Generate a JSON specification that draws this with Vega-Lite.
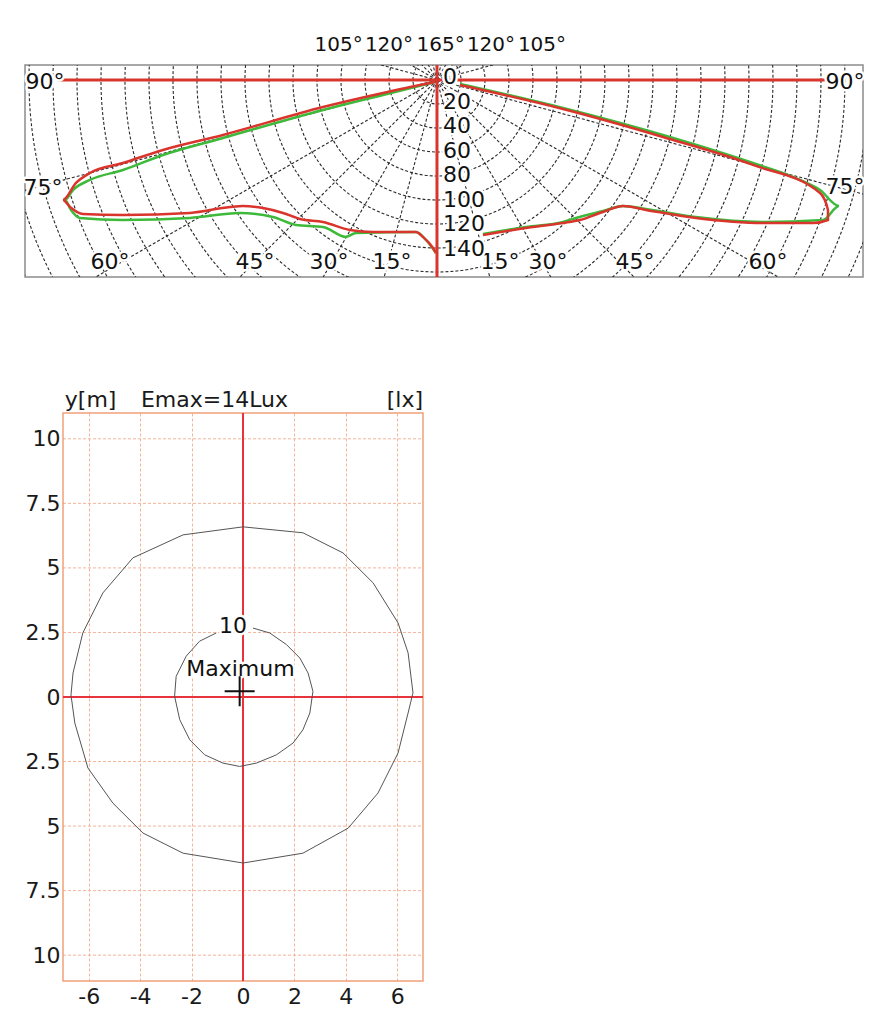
{
  "$schema": "https://vega.github.io/schema/vega-lite/v6.json",
  "padding": {"left": 22, "top": 34, "right": 10, "bottom": 10},
  "background": "white",
  "config": {"font": "DejaVu Sans", "view": {"stroke": null}},
  "spacing": 108,
  "vconcat": [
    {
      "width": 838,
      "height": 212,
      "view": {"stroke": "#8c8c8c", "strokeWidth": 1.5},
      "layer": [
        {
          "data": {"values": [{"r": 20},{"r": 40},{"r": 60},{"r": 80},{"r": 100},{"r": 120},{"r": 140},{"r": 160},{"r": 180},{"r": 200},{"r": 220},{"r": 240},{"r": 260},{"r": 280},{"r": 300},{"r": 320},{"r": 340},{"r": 360},{"r": 380},{"r": 400}]},
          "mark": {"type": "point", "shape": "circle", "filled": false, "stroke": "#2a2a2a", "strokeWidth": 1.1, "strokeDash": [3, 2], "clip": true, "opacity": 1},
          "encoding": {
            "x": {"datum": 0, "type": "quantitative", "scale": {"domain": [-343.3, 355], "nice": false, "zero": false}, "axis": null},
            "y": {"datum": 0, "type": "quantitative", "scale": {"domain": [-164.2, 12.5], "nice": false, "zero": false}, "axis": null},
            "size": {"field": "r", "type": "quantitative", "scale": {"type": "pow", "exponent": 2, "domain": [0, 400], "range": [0, 921600], "zero": true}, "legend": null}
          }
        },
        {
          "data": {"values": [
            {"u1": 0, "v1": 0, "u2": 129.4, "v2": -483.0}, {"u1": 0, "v1": 0, "u2": 250, "v2": -433.0}, {"u1": 0, "v1": 0, "u2": 353.6, "v2": -353.6}, {"u1": 0, "v1": 0, "u2": 433.0, "v2": -250}, {"u1": 0, "v1": 0, "u2": 483.0, "v2": -129.4},
            {"u1": 0, "v1": 0, "u2": 483.0, "v2": 129.4}, {"u1": 0, "v1": 0, "u2": 433.0, "v2": 250}, {"u1": 0, "v1": 0, "u2": 353.6, "v2": 353.6}, {"u1": 0, "v1": 0, "u2": 250, "v2": 433.0}, {"u1": 0, "v1": 0, "u2": 129.4, "v2": 483.0},
            {"u1": 0, "v1": 0, "u2": -129.4, "v2": -483.0}, {"u1": 0, "v1": 0, "u2": -250, "v2": -433.0}, {"u1": 0, "v1": 0, "u2": -353.6, "v2": -353.6}, {"u1": 0, "v1": 0, "u2": -433.0, "v2": -250}, {"u1": 0, "v1": 0, "u2": -483.0, "v2": -129.4},
            {"u1": 0, "v1": 0, "u2": -483.0, "v2": 129.4}, {"u1": 0, "v1": 0, "u2": -433.0, "v2": 250}, {"u1": 0, "v1": 0, "u2": -353.6, "v2": 353.6}, {"u1": 0, "v1": 0, "u2": -250, "v2": 433.0}, {"u1": 0, "v1": 0, "u2": -129.4, "v2": 483.0}
          ]},
          "mark": {"type": "rule", "stroke": "#2a2a2a", "strokeWidth": 1.1, "strokeDash": [3, 2], "clip": true},
          "encoding": {
            "x": {"field": "u1", "type": "quantitative", "scale": {"domain": [-343.3, 355], "nice": false, "zero": false}, "axis": null},
            "y": {"field": "v1", "type": "quantitative", "scale": {"domain": [-164.2, 12.5], "nice": false, "zero": false}, "axis": null},
            "x2": {"field": "u2"},
            "y2": {"field": "v2"}
          }
        },
        {
          "data": {"values": [{"u": 0, "v1": -164.2, "v2": 12.5}]},
          "mark": {"type": "rule", "stroke": "#d9352d", "strokeWidth": 3},
          "encoding": {
            "x": {"field": "u", "type": "quantitative", "scale": {"domain": [-343.3, 355], "nice": false, "zero": false}, "axis": null},
            "y": {"field": "v1", "type": "quantitative", "scale": {"domain": [-164.2, 12.5], "nice": false, "zero": false}, "axis": null},
            "y2": {"field": "v2"}
          }
        },
        {
          "data": {"values": [{"u1": -316, "u2": 326, "v": 0}]},
          "mark": {"type": "rule", "stroke": "#d9352d", "strokeWidth": 3},
          "encoding": {
            "x": {"field": "u1", "type": "quantitative", "scale": {"domain": [-343.3, 355], "nice": false, "zero": false}, "axis": null},
            "x2": {"field": "u2"},
            "y": {"field": "v", "type": "quantitative", "scale": {"domain": [-164.2, 12.5], "nice": false, "zero": false}, "axis": null}
          }
        },
        {
          "data": {"values": [
            {"side": "L", "plane": "C90", "o": 1, "u": -1.7, "v": -1.7},
            {"side": "L", "plane": "C90", "o": 2, "u": -45, "v": -12.5},
            {"side": "L", "plane": "C90", "o": 3, "u": -95, "v": -25},
            {"side": "L", "plane": "C90", "o": 4, "u": -178.3, "v": -48.3},
            {"side": "L", "plane": "C90", "o": 5, "u": -228.3, "v": -62.5},
            {"side": "L", "plane": "C90", "o": 6, "u": -261.7, "v": -75},
            {"side": "L", "plane": "C90", "o": 7, "u": -289.2, "v": -83.3},
            {"side": "L", "plane": "C90", "o": 8, "u": -303.3, "v": -91.7},
            {"side": "L", "plane": "C90", "o": 9, "u": -310, "v": -100},
            {"side": "L", "plane": "C90", "o": 10, "u": -305, "v": -108.3},
            {"side": "L", "plane": "C90", "o": 11, "u": -297.5, "v": -115},
            {"side": "L", "plane": "C90", "o": 12, "u": -261.7, "v": -116.7},
            {"side": "L", "plane": "C90", "o": 13, "u": -205.8, "v": -115},
            {"side": "L", "plane": "C90", "o": 14, "u": -164.2, "v": -110.8},
            {"side": "L", "plane": "C90", "o": 15, "u": -136.7, "v": -114.2},
            {"side": "L", "plane": "C90", "o": 16, "u": -117.5, "v": -120.8},
            {"side": "L", "plane": "C90", "o": 17, "u": -95, "v": -122.5},
            {"side": "L", "plane": "C90", "o": 18, "u": -75.8, "v": -130.8},
            {"side": "L", "plane": "C90", "o": 19, "u": -67.5, "v": -127.5},
            {"side": "L", "plane": "C90", "o": 20, "u": -17.5, "v": -126.7},
            {"side": "L", "plane": "C90", "o": 21, "u": -9.2, "v": -133.3},
            {"side": "L", "plane": "C90", "o": 22, "u": -0.8, "v": -144.2},
            {"side": "R", "plane": "C90", "o": 1, "u": 19.2, "v": -3.3},
            {"side": "R", "plane": "C90", "o": 2, "u": 105, "v": -23.3},
            {"side": "R", "plane": "C90", "o": 3, "u": 188.3, "v": -45.8},
            {"side": "R", "plane": "C90", "o": 4, "u": 263.3, "v": -69.2},
            {"side": "R", "plane": "C90", "o": 5, "u": 302.5, "v": -83.3},
            {"side": "R", "plane": "C90", "o": 6, "u": 319.2, "v": -91.7},
            {"side": "R", "plane": "C90", "o": 7, "u": 335, "v": -105},
            {"side": "R", "plane": "C90", "o": 8, "u": 321.7, "v": -116.7},
            {"side": "R", "plane": "C90", "o": 9, "u": 271.7, "v": -118.3},
            {"side": "R", "plane": "C90", "o": 10, "u": 215.8, "v": -114.2},
            {"side": "R", "plane": "C90", "o": 11, "u": 174.2, "v": -107.5},
            {"side": "R", "plane": "C90", "o": 12, "u": 155, "v": -105},
            {"side": "R", "plane": "C90", "o": 13, "u": 138.3, "v": -109.2},
            {"side": "R", "plane": "C90", "o": 14, "u": 115.8, "v": -115},
            {"side": "R", "plane": "C90", "o": 15, "u": 105, "v": -118.3},
            {"side": "R", "plane": "C90", "o": 16, "u": 74.2, "v": -122.5},
            {"side": "R", "plane": "C90", "o": 17, "u": 38.3, "v": -128.3},
            {"side": "L", "plane": "C0", "o": 1, "u": -1.7, "v": -1.7},
            {"side": "L", "plane": "C0", "o": 2, "u": -45, "v": -10.8},
            {"side": "L", "plane": "C0", "o": 3, "u": -95, "v": -22.5},
            {"side": "L", "plane": "C0", "o": 4, "u": -178.3, "v": -45.8},
            {"side": "L", "plane": "C0", "o": 5, "u": -228.3, "v": -58.3},
            {"side": "L", "plane": "C0", "o": 6, "u": -261.7, "v": -69.2},
            {"side": "L", "plane": "C0", "o": 7, "u": -289.2, "v": -77.5},
            {"side": "L", "plane": "C0", "o": 8, "u": -300.8, "v": -85.8},
            {"side": "L", "plane": "C0", "o": 9, "u": -311.7, "v": -100},
            {"side": "L", "plane": "C0", "o": 10, "u": -305.8, "v": -105.8},
            {"side": "L", "plane": "C0", "o": 11, "u": -295, "v": -111.7},
            {"side": "L", "plane": "C0", "o": 12, "u": -261.7, "v": -112.5},
            {"side": "L", "plane": "C0", "o": 13, "u": -205.8, "v": -110.8},
            {"side": "L", "plane": "C0", "o": 14, "u": -172.5, "v": -105.8},
            {"side": "L", "plane": "C0", "o": 15, "u": -161.7, "v": -105},
            {"side": "L", "plane": "C0", "o": 16, "u": -145, "v": -106.7},
            {"side": "L", "plane": "C0", "o": 17, "u": -128.3, "v": -110.8},
            {"side": "L", "plane": "C0", "o": 18, "u": -114.2, "v": -115.8},
            {"side": "L", "plane": "C0", "o": 19, "u": -95, "v": -118.3},
            {"side": "L", "plane": "C0", "o": 20, "u": -72.5, "v": -125},
            {"side": "L", "plane": "C0", "o": 21, "u": -53.3, "v": -126.7},
            {"side": "L", "plane": "C0", "o": 22, "u": -17.5, "v": -126.7},
            {"side": "L", "plane": "C0", "o": 23, "u": -11.7, "v": -130.8},
            {"side": "L", "plane": "C0", "o": 24, "u": -3.3, "v": -140},
            {"side": "L", "plane": "C0", "o": 25, "u": -0.8, "v": -144.2},
            {"side": "R", "plane": "C0", "o": 1, "u": 19.2, "v": -4.2},
            {"side": "R", "plane": "C0", "o": 2, "u": 105, "v": -24.2},
            {"side": "R", "plane": "C0", "o": 3, "u": 188.3, "v": -47.5},
            {"side": "R", "plane": "C0", "o": 4, "u": 263.3, "v": -70.8},
            {"side": "R", "plane": "C0", "o": 5, "u": 319.2, "v": -94.2},
            {"side": "R", "plane": "C0", "o": 6, "u": 325.8, "v": -108.3},
            {"side": "R", "plane": "C0", "o": 7, "u": 325.8, "v": -116.7},
            {"side": "R", "plane": "C0", "o": 8, "u": 313.3, "v": -119.2},
            {"side": "R", "plane": "C0", "o": 9, "u": 271.7, "v": -119.2},
            {"side": "R", "plane": "C0", "o": 10, "u": 215.8, "v": -115},
            {"side": "R", "plane": "C0", "o": 11, "u": 174.2, "v": -108.3},
            {"side": "R", "plane": "C0", "o": 12, "u": 155, "v": -105},
            {"side": "R", "plane": "C0", "o": 13, "u": 138.3, "v": -110},
            {"side": "R", "plane": "C0", "o": 14, "u": 119.2, "v": -116.7},
            {"side": "R", "plane": "C0", "o": 15, "u": 105, "v": -119.2},
            {"side": "R", "plane": "C0", "o": 16, "u": 74.2, "v": -123.3},
            {"side": "R", "plane": "C0", "o": 17, "u": 38.3, "v": -129.2}
          ]},
          "mark": {"type": "line", "strokeWidth": 2.5, "interpolate": "monotone"},
          "encoding": {
            "x": {"field": "u", "type": "quantitative", "scale": {"domain": [-343.3, 355], "nice": false, "zero": false}, "axis": null},
            "y": {"field": "v", "type": "quantitative", "scale": {"domain": [-164.2, 12.5], "nice": false, "zero": false}, "axis": null},
            "color": {"field": "plane", "type": "nominal", "scale": {"domain": ["C90", "C0"], "range": ["#3dba3a", "#d9352d"]}, "legend": null},
            "detail": {"field": "side"},
            "order": {"field": "o", "type": "quantitative"}
          }
        },
        {
          "data": {"values": [
            {"t": "90°", "u": -326.7, "v": -1.5}, {"t": "75°", "u": -328.3, "v": -90}, {"t": "60°", "u": -272.5, "v": -151.7}, {"t": "45°", "u": -151.7, "v": -151.7}, {"t": "30°", "u": -90, "v": -151.7}, {"t": "15°", "u": -37.5, "v": -151.7},
            {"t": "15°", "u": 52.5, "v": -151.7}, {"t": "30°", "u": 92.5, "v": -151.7}, {"t": "45°", "u": 165, "v": -151.7}, {"t": "60°", "u": 275.8, "v": -151.7}, {"t": "75°", "u": 340, "v": -89}, {"t": "90°", "u": 340, "v": -1.5}
          ]},
          "layer": [
            {"mark": {"type": "text", "fontSize": 22, "align": "center", "baseline": "middle", "fill": "white", "stroke": "white", "strokeWidth": 5, "strokeJoin": "round"}},
            {"mark": {"type": "text", "fontSize": 22, "align": "center", "baseline": "middle", "fill": "#111111"}}
          ],
          "encoding": {
            "x": {"field": "u", "type": "quantitative", "scale": {"domain": [-343.3, 355], "nice": false, "zero": false}, "axis": null},
            "y": {"field": "v", "type": "quantitative", "scale": {"domain": [-164.2, 12.5], "nice": false, "zero": false}, "axis": null},
            "text": {"field": "t"}
          }
        },
        {
          "data": {"values": [
            {"t": "105°", "u": -82, "v": 29.2}, {"t": "120°", "u": -40, "v": 29.2}, {"t": "165°", "u": 3, "v": 29.2}, {"t": "120°", "u": 45, "v": 29.2}, {"t": "105°", "u": 87.5, "v": 29.2}
          ]},
          "mark": {"type": "text", "fontSize": 20, "align": "center", "baseline": "middle", "fill": "#111111"},
          "encoding": {
            "x": {"field": "u", "type": "quantitative", "scale": {"domain": [-343.3, 355], "nice": false, "zero": false}, "axis": null},
            "y": {"field": "v", "type": "quantitative", "scale": {"domain": [-164.2, 12.5], "nice": false, "zero": false}, "axis": null},
            "text": {"field": "t"}
          }
        },
        {
          "data": {"values": [
            {"t": "0", "u": 5, "v": 2.1}, {"t": "20", "u": 5, "v": -18.3}, {"t": "40", "u": 5, "v": -38.75}, {"t": "60", "u": 5, "v": -59.2},
            {"t": "80", "u": 5, "v": -79.6}, {"t": "100", "u": 5, "v": -100}, {"t": "120", "u": 5, "v": -120.4}, {"t": "140", "u": 5, "v": -140.8}
          ]},
          "layer": [
            {"mark": {"type": "text", "fontSize": 22, "align": "left", "baseline": "middle", "fill": "white", "stroke": "white", "strokeWidth": 5, "strokeJoin": "round"}},
            {"mark": {"type": "text", "fontSize": 22, "align": "left", "baseline": "middle", "fill": "#111111"}}
          ],
          "encoding": {
            "x": {"field": "u", "type": "quantitative", "scale": {"domain": [-343.3, 355], "nice": false, "zero": false}, "axis": null},
            "y": {"field": "v", "type": "quantitative", "scale": {"domain": [-164.2, 12.5], "nice": false, "zero": false}, "axis": null},
            "text": {"field": "t"}
          }
        }
      ]
    },
    {
      "width": 398,
      "height": 568,
      "view": {"stroke": null},
      "layer": [
        {
          "data": {"values": [{"gy": -10, "x1": -7, "x2": 7}, {"gy": -7.5, "x1": -7, "x2": 7}, {"gy": -5, "x1": -7, "x2": 7}, {"gy": -2.5, "x1": -7, "x2": 7}, {"gy": 2.5, "x1": -7, "x2": 7}, {"gy": 5, "x1": -7, "x2": 7}, {"gy": 7.5, "x1": -7, "x2": 7}, {"gy": 10, "x1": -7, "x2": 7}]},
          "mark": {"type": "rule", "stroke": "#f4b49a", "strokeWidth": 1, "strokeDash": [3, 2]},
          "encoding": {
            "x": {"field": "x1", "type": "quantitative", "scale": {"domain": [-8.478, 7], "nice": false, "zero": false},
                  "axis": {"values": [-6, -4, -2, 0, 2, 4, 6], "labelExpr": "toString(datum.value)", "grid": true, "gridColor": "#f4b49a", "gridDash": [3, 2], "gridWidth": 1, "ticks": false, "domain": false, "labelFontSize": 22, "labelColor": "#1a1a1a", "labelPadding": 5, "title": null}},
            "x2": {"field": "x2"},
            "y": {"field": "gy", "type": "quantitative", "scale": {"domain": [-11, 11], "nice": false, "zero": false},
                  "axis": {"values": [-10, -7.5, -5, -2.5, 0, 2.5, 5, 7.5, 10], "labelExpr": "toString(abs(datum.value))", "offset": -38, "grid": false, "ticks": false, "domain": false, "labelFontSize": 22, "labelColor": "#1a1a1a", "labelPadding": 3, "title": null}}
          }
        },
        {
          "data": {"values": [{"x1": -7, "x2": 7, "y1": -11, "y2": 11}]},
          "mark": {"type": "rect", "fill": null, "filled": false, "stroke": "#f0a07a", "strokeWidth": 1.5},
          "encoding": {
            "x": {"field": "x1", "type": "quantitative", "scale": {"domain": [-8.478, 7], "nice": false, "zero": false},
                  "axis": {"values": [-6, -4, -2, 0, 2, 4, 6], "labelExpr": "toString(datum.value)", "grid": true, "gridColor": "#f4b49a", "gridDash": [3, 2], "gridWidth": 1, "ticks": false, "domain": false, "labelFontSize": 22, "labelColor": "#1a1a1a", "labelPadding": 5, "title": null}},
            "x2": {"field": "x2"},
            "y": {"field": "y1", "type": "quantitative", "scale": {"domain": [-11, 11], "nice": false, "zero": false},
                  "axis": {"values": [-10, -7.5, -5, -2.5, 0, 2.5, 5, 7.5, 10], "labelExpr": "toString(abs(datum.value))", "offset": -38, "grid": false, "ticks": false, "domain": false, "labelFontSize": 22, "labelColor": "#1a1a1a", "labelPadding": 3, "title": null}},
            "y2": {"field": "y2"}
          }
        },
        {
          "data": {"values": [{"x": 0, "y1": -11, "y2": 11}]},
          "mark": {"type": "rule", "stroke": "#e8323c", "strokeWidth": 2},
          "encoding": {
            "x": {"field": "x", "type": "quantitative", "scale": {"domain": [-8.478, 7], "nice": false, "zero": false},
                  "axis": {"values": [-6, -4, -2, 0, 2, 4, 6], "labelExpr": "toString(datum.value)", "grid": true, "gridColor": "#f4b49a", "gridDash": [3, 2], "gridWidth": 1, "ticks": false, "domain": false, "labelFontSize": 22, "labelColor": "#1a1a1a", "labelPadding": 5, "title": null}},
            "y": {"field": "y1", "type": "quantitative", "scale": {"domain": [-11, 11], "nice": false, "zero": false},
                  "axis": {"values": [-10, -7.5, -5, -2.5, 0, 2.5, 5, 7.5, 10], "labelExpr": "toString(abs(datum.value))", "offset": -38, "grid": false, "ticks": false, "domain": false, "labelFontSize": 22, "labelColor": "#1a1a1a", "labelPadding": 3, "title": null}},
            "y2": {"field": "y2"}
          }
        },
        {
          "data": {"values": [{"x1": -7, "x2": 7, "y": 0}]},
          "mark": {"type": "rule", "stroke": "#e8323c", "strokeWidth": 2},
          "encoding": {
            "x": {"field": "x1", "type": "quantitative", "scale": {"domain": [-8.478, 7], "nice": false, "zero": false},
                  "axis": {"values": [-6, -4, -2, 0, 2, 4, 6], "labelExpr": "toString(datum.value)", "grid": true, "gridColor": "#f4b49a", "gridDash": [3, 2], "gridWidth": 1, "ticks": false, "domain": false, "labelFontSize": 22, "labelColor": "#1a1a1a", "labelPadding": 5, "title": null}},
            "x2": {"field": "x2"},
            "y": {"field": "y", "type": "quantitative", "scale": {"domain": [-11, 11], "nice": false, "zero": false},
                  "axis": {"values": [-10, -7.5, -5, -2.5, 0, 2.5, 5, 7.5, 10], "labelExpr": "toString(abs(datum.value))", "offset": -38, "grid": false, "ticks": false, "domain": false, "labelFontSize": 22, "labelColor": "#1a1a1a", "labelPadding": 3, "title": null}}
          }
        },
        {
          "data": {"values": [
            {"c": "outer", "o": 1, "x": 0, "y": 6.59}, {"c": "outer", "o": 2, "x": -2.33, "y": 6.28}, {"c": "outer", "o": 3, "x": -4.28, "y": 5.39}, {"c": "outer", "o": 4, "x": -5.45, "y": 4.03},
            {"c": "outer", "o": 5, "x": -6.23, "y": 2.48}, {"c": "outer", "o": 6, "x": -6.61, "y": 0.93}, {"c": "outer", "o": 7, "x": -6.69, "y": 0.08}, {"c": "outer", "o": 8, "x": -6.54, "y": -1.01},
            {"c": "outer", "o": 9, "x": -6.03, "y": -2.75}, {"c": "outer", "o": 10, "x": -5.06, "y": -4.11}, {"c": "outer", "o": 11, "x": -3.89, "y": -5.27}, {"c": "outer", "o": 12, "x": -2.33, "y": -6.05},
            {"c": "outer", "o": 13, "x": 0, "y": -6.43}, {"c": "outer", "o": 14, "x": 2.33, "y": -6.05}, {"c": "outer", "o": 15, "x": 4.09, "y": -5.08}, {"c": "outer", "o": 16, "x": 5.25, "y": -3.72},
            {"c": "outer", "o": 17, "x": 6.03, "y": -2.17}, {"c": "outer", "o": 18, "x": 6.42, "y": -0.62}, {"c": "outer", "o": 19, "x": 6.61, "y": 0.16}, {"c": "outer", "o": 20, "x": 6.42, "y": 1.71},
            {"c": "outer", "o": 21, "x": 6.03, "y": 2.87}, {"c": "outer", "o": 22, "x": 5.06, "y": 4.42}, {"c": "outer", "o": 23, "x": 3.89, "y": 5.58}, {"c": "outer", "o": 24, "x": 2.33, "y": 6.36},
            {"c": "outer", "o": 25, "x": 0, "y": 6.59},
            {"c": "inner", "o": 1, "x": 0.39, "y": 2.67}, {"c": "inner", "o": 2, "x": 1.04, "y": 2.48}, {"c": "inner", "o": 3, "x": 1.69, "y": 2.03}, {"c": "inner", "o": 4, "x": 2.21, "y": 1.51},
            {"c": "inner", "o": 5, "x": 2.53, "y": 0.93}, {"c": "inner", "o": 6, "x": 2.72, "y": 0.22}, {"c": "inner", "o": 7, "x": 2.6, "y": -0.62}, {"c": "inner", "o": 8, "x": 2.33, "y": -1.27},
            {"c": "inner", "o": 9, "x": 1.95, "y": -1.78}, {"c": "inner", "o": 10, "x": 1.3, "y": -2.24}, {"c": "inner", "o": 11, "x": 0.52, "y": -2.56}, {"c": "inner", "o": 12, "x": -0.13, "y": -2.69},
            {"c": "inner", "o": 13, "x": -0.78, "y": -2.56}, {"c": "inner", "o": 14, "x": -1.49, "y": -2.24}, {"c": "inner", "o": 15, "x": -2.07, "y": -1.66}, {"c": "inner", "o": 16, "x": -2.46, "y": -0.88},
            {"c": "inner", "o": 17, "x": -2.66, "y": 0.03}, {"c": "inner", "o": 18, "x": -2.6, "y": 0.8}, {"c": "inner", "o": 19, "x": -2.21, "y": 1.58}, {"c": "inner", "o": 20, "x": -1.69, "y": 2.16},
            {"c": "inner", "o": 21, "x": -1.04, "y": 2.48}
          ]},
          "mark": {"type": "line", "stroke": "#555555", "strokeWidth": 1},
          "encoding": {
            "x": {"field": "x", "type": "quantitative", "scale": {"domain": [-8.478, 7], "nice": false, "zero": false},
                  "axis": {"values": [-6, -4, -2, 0, 2, 4, 6], "labelExpr": "toString(datum.value)", "grid": true, "gridColor": "#f4b49a", "gridDash": [3, 2], "gridWidth": 1, "ticks": false, "domain": false, "labelFontSize": 22, "labelColor": "#1a1a1a", "labelPadding": 5, "title": null}},
            "y": {"field": "y", "type": "quantitative", "scale": {"domain": [-11, 11], "nice": false, "zero": false},
                  "axis": {"values": [-10, -7.5, -5, -2.5, 0, 2.5, 5, 7.5, 10], "labelExpr": "toString(abs(datum.value))", "offset": -38, "grid": false, "ticks": false, "domain": false, "labelFontSize": 22, "labelColor": "#1a1a1a", "labelPadding": 3, "title": null}},
            "detail": {"field": "c"},
            "order": {"field": "o", "type": "quantitative"}
          }
        },
        {
          "data": {"values": [{"t": "10", "x": -0.39, "y": 2.75}, {"t": "Maximum", "x": -0.1, "y": 1.09}]},
          "layer": [
            {"mark": {"type": "text", "fontSize": 22, "align": "center", "baseline": "middle", "fill": "white", "stroke": "white", "strokeWidth": 5, "strokeJoin": "round"}},
            {"mark": {"type": "text", "fontSize": 22, "align": "center", "baseline": "middle", "fill": "#111111"}}
          ],
          "encoding": {
            "x": {"field": "x", "type": "quantitative", "scale": {"domain": [-8.478, 7], "nice": false, "zero": false},
                  "axis": {"values": [-6, -4, -2, 0, 2, 4, 6], "labelExpr": "toString(datum.value)", "grid": true, "gridColor": "#f4b49a", "gridDash": [3, 2], "gridWidth": 1, "ticks": false, "domain": false, "labelFontSize": 22, "labelColor": "#1a1a1a", "labelPadding": 5, "title": null}},
            "y": {"field": "y", "type": "quantitative", "scale": {"domain": [-11, 11], "nice": false, "zero": false},
                  "axis": {"values": [-10, -7.5, -5, -2.5, 0, 2.5, 5, 7.5, 10], "labelExpr": "toString(abs(datum.value))", "offset": -38, "grid": false, "ticks": false, "domain": false, "labelFontSize": 22, "labelColor": "#1a1a1a", "labelPadding": 3, "title": null}},
            "text": {"field": "t"}
          }
        },
        {
          "data": {"values": [{"t": "y[m]", "x": -6.93, "y": 11.51}, {"t": "Emax=14Lux", "x": -3.97, "y": 11.51}]},
          "mark": {"type": "text", "fontSize": 22, "align": "left", "baseline": "middle", "fill": "#1a1a1a"},
          "encoding": {
            "x": {"field": "x", "type": "quantitative", "scale": {"domain": [-8.478, 7], "nice": false, "zero": false},
                  "axis": {"values": [-6, -4, -2, 0, 2, 4, 6], "labelExpr": "toString(datum.value)", "grid": true, "gridColor": "#f4b49a", "gridDash": [3, 2], "gridWidth": 1, "ticks": false, "domain": false, "labelFontSize": 22, "labelColor": "#1a1a1a", "labelPadding": 5, "title": null}},
            "y": {"field": "y", "type": "quantitative", "scale": {"domain": [-11, 11], "nice": false, "zero": false},
                  "axis": {"values": [-10, -7.5, -5, -2.5, 0, 2.5, 5, 7.5, 10], "labelExpr": "toString(abs(datum.value))", "offset": -38, "grid": false, "ticks": false, "domain": false, "labelFontSize": 22, "labelColor": "#1a1a1a", "labelPadding": 3, "title": null}},
            "text": {"field": "t"}
          }
        },
        {
          "data": {"values": [{"t": "[lx]", "x": 7.0, "y": 11.51}]},
          "mark": {"type": "text", "fontSize": 22, "align": "right", "baseline": "middle", "fill": "#1a1a1a"},
          "encoding": {
            "x": {"field": "x", "type": "quantitative", "scale": {"domain": [-8.478, 7], "nice": false, "zero": false},
                  "axis": {"values": [-6, -4, -2, 0, 2, 4, 6], "labelExpr": "toString(datum.value)", "grid": true, "gridColor": "#f4b49a", "gridDash": [3, 2], "gridWidth": 1, "ticks": false, "domain": false, "labelFontSize": 22, "labelColor": "#1a1a1a", "labelPadding": 5, "title": null}},
            "y": {"field": "y", "type": "quantitative", "scale": {"domain": [-11, 11], "nice": false, "zero": false},
                  "axis": {"values": [-10, -7.5, -5, -2.5, 0, 2.5, 5, 7.5, 10], "labelExpr": "toString(abs(datum.value))", "offset": -38, "grid": false, "ticks": false, "domain": false, "labelFontSize": 22, "labelColor": "#1a1a1a", "labelPadding": 3, "title": null}},
            "text": {"field": "t"}
          }
        },
        {
          "data": {"values": [{"x": -0.13, "y": 0.22}]},
          "mark": {"type": "point", "shape": "M-1,0L1,0M0,-1L0,1", "size": 900, "filled": false, "stroke": "#111111", "strokeWidth": 2, "opacity": 1},
          "encoding": {
            "x": {"field": "x", "type": "quantitative", "scale": {"domain": [-8.478, 7], "nice": false, "zero": false},
                  "axis": {"values": [-6, -4, -2, 0, 2, 4, 6], "labelExpr": "toString(datum.value)", "grid": true, "gridColor": "#f4b49a", "gridDash": [3, 2], "gridWidth": 1, "ticks": false, "domain": false, "labelFontSize": 22, "labelColor": "#1a1a1a", "labelPadding": 5, "title": null}},
            "y": {"field": "y", "type": "quantitative", "scale": {"domain": [-11, 11], "nice": false, "zero": false},
                  "axis": {"values": [-10, -7.5, -5, -2.5, 0, 2.5, 5, 7.5, 10], "labelExpr": "toString(abs(datum.value))", "offset": -38, "grid": false, "ticks": false, "domain": false, "labelFontSize": 22, "labelColor": "#1a1a1a", "labelPadding": 3, "title": null}}
          }
        }
      ]
    }
  ]
}
